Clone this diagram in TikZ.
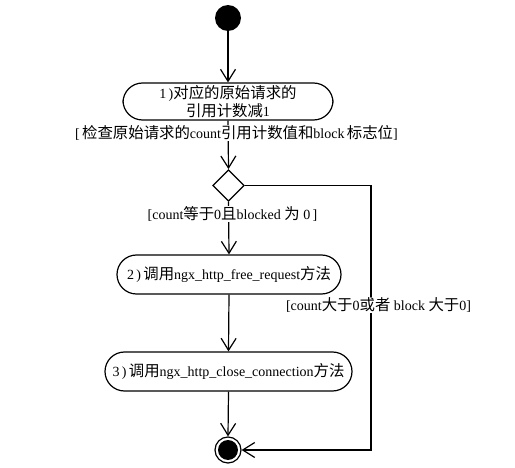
\documentclass[tikz,border=0pt]{standalone}
\usepackage{fontspec}
\setmainfont{Liberation Serif}
\newfontfamily\cjk[Scale=1.1]{Noto Sans CJK SC}
\newcommand\zh[1]{{\cjk #1}}
\usetikzlibrary{arrows.meta}
\begin{document}
\begin{tikzpicture}[x=1pt,y=-1pt,
  every node/.style={font=\fontsize{14}{17.5}\selectfont},
  act/.style={draw,line width=1.2pt,rounded corners=19.5pt,inner sep=0pt,align=center},
  guard/.style={fill=white,inner xsep=1pt,inner ysep=1pt},
  flow/.style={line width=1.2pt,-{Straight Barb[length=12pt,width=15pt,line width=1.2pt]}},
  plain/.style={line width=1.2pt}]
\useasboundingbox (0,0) rectangle (515,468);
\node[circle,fill=black,minimum size=26pt,inner sep=0pt] (start) at (228,18) {};
\node[act,minimum width=210pt,minimum height=37pt] (a1) at (228,101.5) {1\,)\zh{对应的原始请求的}\\\zh{引用计数减}1};
\node[draw,line width=1.2pt,minimum width=22pt,minimum height=22pt,rotate=45,inner sep=0pt] (d) at (228.5,185.5) {};
\node[act,minimum width=224pt,minimum height=39pt] (a2) at (229,274.5) {2\,)\,\zh{调用}ngx\_http\_free\_request\zh{方法}};
\node[act,minimum width=247pt,minimum height=39pt] (a3) at (228.5,371.5) {3\,)\,\zh{调用}ngx\_http\_close\_connection\zh{方法}};
\node[circle,draw,line width=1.2pt,minimum size=26pt,inner sep=0pt] (end) at (228,450) {};
\node[circle,fill=black,minimum size=20pt,inner sep=0pt] (endin) at (end.center) {};
\coordinate (c1) at (371,185.5);
\coordinate (c2) at (371,450);
\draw[flow] (start) -- (a1.north);
\draw[flow] (a1.south) -- (d.north east);
\draw[flow] (d.south west) -- (a2.north);
\draw[flow] (a2.south) -- (a3.north);
\draw[flow] (a3.south) -- (end.north);
\draw[flow] (d.south east) -- (c1) -- (c2) -- (end.east);
\node[guard] (g1) at (236.5,133) {[\,\zh{检查原始请求的}count\zh{引用计数值和}block\,\zh{标志位}]};
\node[guard] (g2) at (232.5,214) {[count\zh{等于}0\zh{且}blocked \zh{为} 0\,]};
\node[guard] (g3) at (378.5,305) {[count\zh{大于}0\zh{或者} block \zh{大于}0]};
\end{tikzpicture}
\end{document}
